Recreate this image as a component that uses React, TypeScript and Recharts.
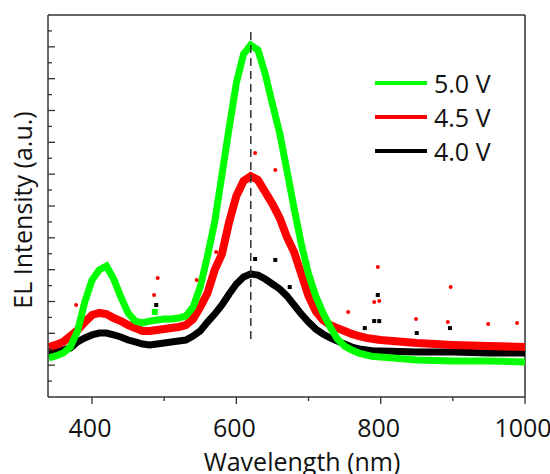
import React from 'react';
import { ComposedChart, Line, Scatter, XAxis, YAxis, ReferenceLine, Label } from 'recharts';

const wavelengths = [340,350,360,370,380,390,400,410,420,430,440,450,460,470,480,490,500,510,520,530,540,550,560,570,580,590,600,610,620,630,640,650,660,670,680,690,700,710,720,730,740,750,760,770,780,790,800,850,900,950,1000];
const green5V = [2.45,2.58,2.76,3.14,4.15,5.97,7.35,7.98,8.23,7.41,6.28,5.28,4.77,4.65,4.77,4.84,4.90,4.90,4.96,5.09,5.65,6.91,8.86,10.99,13.95,16.90,19.73,21.55,22.11,21.80,20.29,18.41,16.59,14.26,11.87,9.61,7.73,6.35,5.28,4.40,3.64,3.20,2.95,2.76,2.64,2.54,2.51,2.32,2.26,2.26,2.20];
const red45V = [3.14,3.27,3.46,3.83,4.21,4.71,5.15,5.28,5.21,4.96,4.77,4.52,4.33,4.15,4.15,4.21,4.27,4.33,4.40,4.52,4.90,5.65,6.53,7.98,8.98,10.99,12.63,13.57,13.88,13.63,12.88,12.13,11.25,10.05,9.11,7.73,6.35,5.40,4.84,4.52,4.33,4.15,3.96,3.83,3.71,3.64,3.58,3.39,3.27,3.20,3.14];
const black40V = [2.83,2.83,2.95,3.08,3.46,3.71,3.90,4.02,4.02,3.90,3.77,3.58,3.46,3.33,3.27,3.33,3.39,3.46,3.52,3.58,3.83,4.15,4.71,5.21,5.78,6.47,7.10,7.54,7.73,7.66,7.41,7.10,6.79,6.35,5.78,5.21,4.71,4.27,3.96,3.71,3.52,3.33,3.14,3.02,2.95,2.89,2.89,2.83,2.83,2.76,2.76];

const redOutNm = [378,486,491,545,572,626,654,755,791,796,798,849,893,897,949,989];
const redOutV = [5.78,6.41,7.48,7.35,9.11,15.33,14.26,5.34,5.97,8.17,6.03,4.90,4.71,6.91,4.59,4.65];
const blackOutNm = [489,626,654,674,778,791,796,798,850,896];
const blackOutV = [5.78,8.67,8.61,6.91,4.33,4.77,6.41,4.77,4.02,4.33];
const greenOutNm = [487];
const greenOutV = [5.34];

const xTicks = [400,500,600,700,800,900,1000];
const xLabels = [400,600,800,1000];
const yTicks = [1,2,3,4,5,6,7,8,9,10,11,12,13,14,15,16,17,18,19,20,21,22,23];
const peakNm = 620;
const seriesNames = ['5.0 V','4.5 V','4.0 V'];
const seriesColors = ['#00ff00','#ff0000','#000000'];

const data = wavelengths.map((nm, i) => ({ nm, g: green5V[i], r: red45V[i], b: black40V[i] }));
const redOut = redOutNm.map((nm, i) => ({ nm, v: redOutV[i] }));
const blackOut = blackOutNm.map((nm, i) => ({ nm, v: blackOutV[i] }));
const greenOut = greenOutNm.map((nm, i) => ({ nm, v: greenOutV[i] }));

const FONT = '"Open Sans", sans-serif';
const AX = '#333333';

const XTick = (props: any) => {
  const { x, y, payload } = props;
  const major = xLabels.includes(payload.value);
  return (
    <g>
      <line x1={x} x2={x} y1={y} y2={y + (major ? 7 : 4)} stroke={AX} strokeWidth={1.3} />
      {major && (
        <text x={x - 2} y={y + 40} textAnchor="middle" fontFamily={FONT} fontSize={25} fill="#111">
          {payload.value}
        </text>
      )}
    </g>
  );
};

const YTick = (props: any) => {
  const { x, y, payload } = props;
  const major = payload.value % 2 === 0;
  return <line x1={x} x2={x + (major ? 7 : 4)} y1={y} y2={y} stroke={AX} strokeWidth={1.3} />;
};

const RedDot = (props: any) => <circle cx={props.cx} cy={props.cy} r={2} fill="#ff0000" />;
const BlackDot = (props: any) => <rect x={props.cx - 2} y={props.cy - 2} width={4} height={4} fill="#000" />;
const GreenDot = (props: any) => <rect x={props.cx - 3} y={props.cy - 3} width={6} height={6} fill="#00ff00" />;

export default function App() {
  return (
    <div style={{ position: 'absolute', left: 0, top: 0, width: 550, height: 474 }}>
      <ComposedChart width={550} height={474} data={data} margin={{ top: 15, right: 25, left: 0, bottom: 27 }}>
        <XAxis
          dataKey="nm"
          type="number"
          domain={[339, 1000]}
          ticks={xTicks}
          allowDataOverflow
          height={50}
          tickSize={0}
          tickMargin={0}
          tickLine={false}
          axisLine={{ stroke: AX, strokeWidth: 1.5 }}
          tick={<XTick />}
          interval={0}
        >
          <Label
            content={() => (
              <text x={302} y={471} textAnchor="middle" fontFamily={FONT} fontSize={25} fill="#111">
                Wavelength (nm)
              </text>
            )}
          />
        </XAxis>
        <YAxis
          type="number"
          domain={[0, 24]}
          ticks={yTicks}
          allowDataOverflow
          width={48}
          tickSize={0}
          tickMargin={0}
          tickLine={false}
          axisLine={{ stroke: AX, strokeWidth: 1.5 }}
          tick={<YTick />}
          interval={0}
        >
          <Label
            content={() => (
              <text x={32} y={210} transform="rotate(-90, 32, 210)" textAnchor="middle" fontFamily={FONT} fontSize={25} fill="#111">
                EL Intensity (a.u.)
              </text>
            )}
          />
        </YAxis>
        <ReferenceLine y={24} stroke={AX} strokeWidth={1.5} />
        <ReferenceLine x={1000} stroke={AX} strokeWidth={1.5} />
        <Line dataKey="b" stroke="#000000" strokeWidth={7} dot={false} isAnimationActive={false} legendType="none" />
        <Scatter data={blackOut} dataKey="v" shape={<BlackDot />} isAnimationActive={false} legendType="none" />
        <Line dataKey="r" stroke="#ff0000" strokeWidth={8} dot={false} isAnimationActive={false} legendType="none" />
        <Scatter data={redOut} dataKey="v" shape={<RedDot />} isAnimationActive={false} legendType="none" />
        <Line dataKey="g" stroke="#00ff00" strokeWidth={7} dot={false} isAnimationActive={false} legendType="none" />
        <Scatter data={greenOut} dataKey="v" shape={<GreenDot />} isAnimationActive={false} legendType="none" />
        <ReferenceLine
          segment={[{ x: peakNm, y: 3.64 }, { x: peakNm, y: 23.06 }]}
          stroke={AX}
          strokeWidth={1.5}
          strokeDasharray="8 5"
        />
      </ComposedChart>
      <div style={{ position: 'absolute', left: 375, top: 66, fontFamily: FONT, fontSize: 25 }}>
        {seriesNames.map((n, i) => (
          <div key={n} style={{ display: 'flex', alignItems: 'center', height: 34 }}>
            <div style={{ width: 52, height: 4, background: seriesColors[i], marginRight: 7 }} />
            <span style={{ color: '#111', lineHeight: '34px' }}>{n}</span>
          </div>
        ))}
      </div>
    </div>
  );
}
